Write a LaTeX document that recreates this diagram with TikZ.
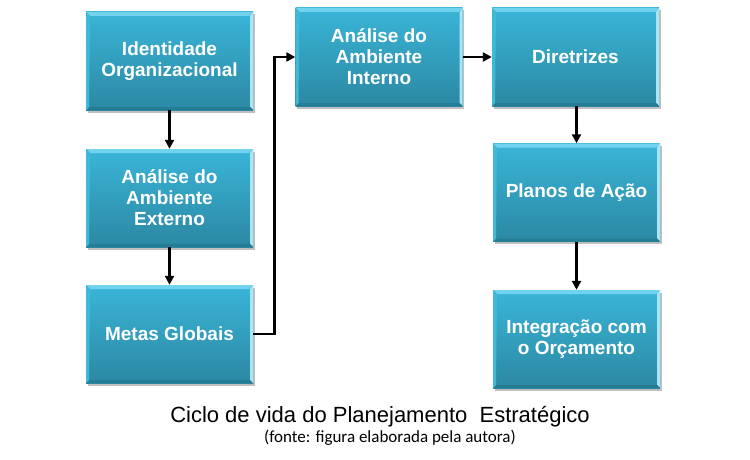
\documentclass[tikz,border=0pt]{standalone}
\usepackage{fontspec}
\setmainfont{Liberation Sans}
\newfontfamily\calib{Carlito}
\usetikzlibrary{arrows.meta,shadows,calc}
\definecolor{boxtop}{HTML}{3AB5D8}
\definecolor{boxbot}{HTML}{2B88A3}
\definecolor{bevtop}{HTML}{72D3EE}
\definecolor{bevright}{HTML}{A8E6F6}
\definecolor{bevbot}{HTML}{257C95}
\definecolor{bevleft}{HTML}{3FB9DA}
\tikzset{
  box/.style={minimum width=167pt, minimum height=98pt, inner sep=0pt,
    top color=boxtop, bottom color=boxbot,
    drop shadow={shadow xshift=1.5pt, shadow yshift=-2.5pt, fill=black, opacity=0.25},
    text=white, font=\fontsize{19}{21}\selectfont\bfseries, align=center,
    path picture={
      \coordinate (nw) at (path picture bounding box.north west);
      \coordinate (ne) at (path picture bounding box.north east);
      \coordinate (sw) at (path picture bounding box.south west);
      \coordinate (se) at (path picture bounding box.south east);
      \fill[bevtop] (nw) -- (ne) -- ([shift={(-4pt,-4pt)}]ne) -- ([shift={(4pt,-4pt)}]nw) -- cycle;
      \fill[bevright] (ne) -- (se) -- ([shift={(-3pt,3pt)}]se) -- ([shift={(-3pt,-4pt)}]ne) -- cycle;
      \fill[bevbot] (sw) -- (se) -- ([shift={(-3pt,3pt)}]se) -- ([shift={(3pt,3pt)}]sw) -- cycle;
      \fill[bevleft] (nw) -- (sw) -- ([shift={(3pt,3pt)}]sw) -- ([shift={(4pt,-4pt)}]nw) -- cycle;
    }},
  arr/.style={draw=black, line width=2.6pt, -{Triangle[length=9pt,width=9pt]}},
  capmain/.style={font=\fontsize{22}{26}\selectfont, anchor=base, inner sep=0pt},
  capsrc/.style={font=\calib\fontsize{17}{20}\selectfont, anchor=base, inner sep=0pt}
}
\begin{document}
\begin{tikzpicture}[x=1pt,y=-1pt]
\useasboundingbox (0,0) rectangle (750,460);
\fill[white] (0,0) rectangle (750,460);
\node[box] (idn) at (169.5,61) {Identidade\\Organizacional};
\node[box] (ext) at (169.5,198) {Análise do\\Ambiente\\Externo};
\node[box] (met) at (169.5,334) {Metas Globais};
\node[box] (int) at (379,57) {Análise do\\Ambiente\\Interno};
\node[box] (dir) at (575.5,57) {Diretrizes};
\node[box] (pla) at (576.5,192.5) {Planos de Ação};
\node[box] (orc) at (576.5,339) {Integração com\\o Orçamento};
\draw[arr] (idn) -- (ext);
\draw[arr] (ext) -- (met);
\draw[arr] (met.east) -- ++(21,0) |- (int.west);
\draw[arr] (int) -- (dir);
\draw[arr] (dir.south -| pla.north) -- (pla.north);
\draw[arr] (pla) -- (orc);
\node[capmain] (cap) at (380,422) {Ciclo de vida do Planejamento\ \ Estratégico};
\node[capsrc] (src) at (390,442) {(fonte: figura elaborada pela autora)};
\end{tikzpicture}
\end{document}
